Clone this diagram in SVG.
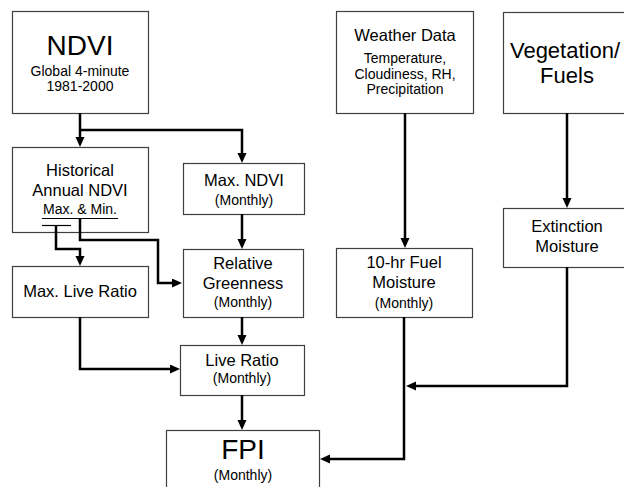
<svg xmlns="http://www.w3.org/2000/svg" width="624" height="487" viewBox="0 0 624 487">
<style>
.box{fill:#fff;stroke:#404040;stroke-width:1.2}
text{font-family:"Liberation Sans",Arial,sans-serif;fill:#000;text-anchor:middle}
.m{font-size:16.5px}
.s{font-size:14px}
.b{font-size:28px}
.v{font-size:22px}
.c{fill:none;stroke:#000;stroke-width:2.5;stroke-linejoin:miter}
.u{stroke:#000;stroke-width:1.2}
</style>
<defs>
<marker id="ah" markerUnits="userSpaceOnUse" markerWidth="12" markerHeight="12" refX="2" refY="4.5" orient="auto">
<path d="M0,0 L10,4.5 L0,9 z" fill="#000"/>
</marker>
</defs>
<rect width="624" height="487" fill="#fff"/>
<g id="ndvi">
<rect class="box" x="12.5" y="11.5" width="136" height="102"/>
<text class="b" x="80" y="55">NDVI</text>
<text class="s" x="80" y="76">Global 4-minute</text>
<text class="s" x="80" y="91">1981-2000</text>
</g>
<g id="historical">
<rect class="box" x="12.5" y="147.5" width="136" height="85"/>
<text class="m" x="80" y="176">Historical</text>
<text class="m" x="80" y="196">Annual NDVI</text>
<text class="s" x="80" y="214">Max. &amp; Min.</text>
<line class="u" x1="42" y1="218.5" x2="118" y2="218.5"/>
<line class="u" x1="42" y1="225.5" x2="71" y2="225.5"/>
</g>
<g id="maxndvi">
<rect class="box" x="183.5" y="163.5" width="121" height="51"/>
<text class="m" x="244" y="186">Max. NDVI</text>
<text class="s" x="244" y="205">(Monthly)</text>
</g>
<g id="relgreen">
<rect class="box" x="183.5" y="249.5" width="120" height="68"/>
<text class="m" x="243" y="269">Relative</text>
<text class="m" x="243" y="289">Greenness</text>
<text class="s" x="243" y="307">(Monthly)</text>
</g>
<g id="maxlive">
<rect class="box" x="12.5" y="266.5" width="136" height="51"/>
<text class="m" x="80" y="297">Max. Live Ratio</text>
</g>
<g id="liveratio">
<rect class="box" x="180.5" y="345.5" width="124" height="50"/>
<text class="m" x="242" y="366">Live Ratio</text>
<text class="s" x="242" y="383">(Monthly)</text>
</g>
<g id="fpi">
<rect class="box" x="166.5" y="430.5" width="153" height="62"/>
<text class="b" x="243" y="459">FPI</text>
<text class="s" x="243" y="480">(Monthly)</text>
</g>
<g id="weather">
<rect class="box" x="336.5" y="11.5" width="137" height="102"/>
<text class="m" x="405" y="41">Weather Data</text>
<text class="s" x="405" y="63">Temperature,</text>
<text class="s" x="405" y="79">Cloudiness, RH,</text>
<text class="s" x="405" y="94">Precipitation</text>
</g>
<g id="fuelmoist">
<rect class="box" x="336.5" y="248.5" width="136" height="69"/>
<text class="m" x="404" y="268">10-hr Fuel</text>
<text class="m" x="404" y="288">Moisture</text>
<text class="s" x="404" y="308">(Monthly)</text>
</g>
<g id="vegetation">
<rect class="box" x="503.5" y="12.5" width="132" height="101"/>
<text class="v" x="565" y="58">Vegetation/</text>
<text class="v" x="567" y="83">Fuels</text>
</g>
<g id="extinction">
<rect class="box" x="503.5" y="208.5" width="132" height="59"/>
<text class="m" x="567" y="232">Extinction</text>
<text class="m" x="567" y="252">Moisture</text>
</g>
<g id="connectors">
<path class="c" d="M80,113 V139" marker-end="url(#ah)"/>
<path class="c" d="M80,130 H242 V155" marker-end="url(#ah)"/>
<path class="c" d="M242,214 V241" marker-end="url(#ah)"/>
<path class="c" d="M56,225 V249 H80 V258" marker-end="url(#ah)"/>
<path class="c" d="M80,218 V240 H158 V283 H174" marker-end="url(#ah)"/>
<path class="c" d="M242,317 V337" marker-end="url(#ah)"/>
<path class="c" d="M80,317 V369 H172" marker-end="url(#ah)"/>
<path class="c" d="M242,395 V422" marker-end="url(#ah)"/>
<path class="c" d="M405,113 V240" marker-end="url(#ah)"/>
<path class="c" d="M567,113 V200" marker-end="url(#ah)"/>
<path class="c" d="M404,317 V459 H328" marker-end="url(#ah)"/>
<path class="c" d="M567,267 V386 H414" marker-end="url(#ah)"/>
</g>
</svg>
